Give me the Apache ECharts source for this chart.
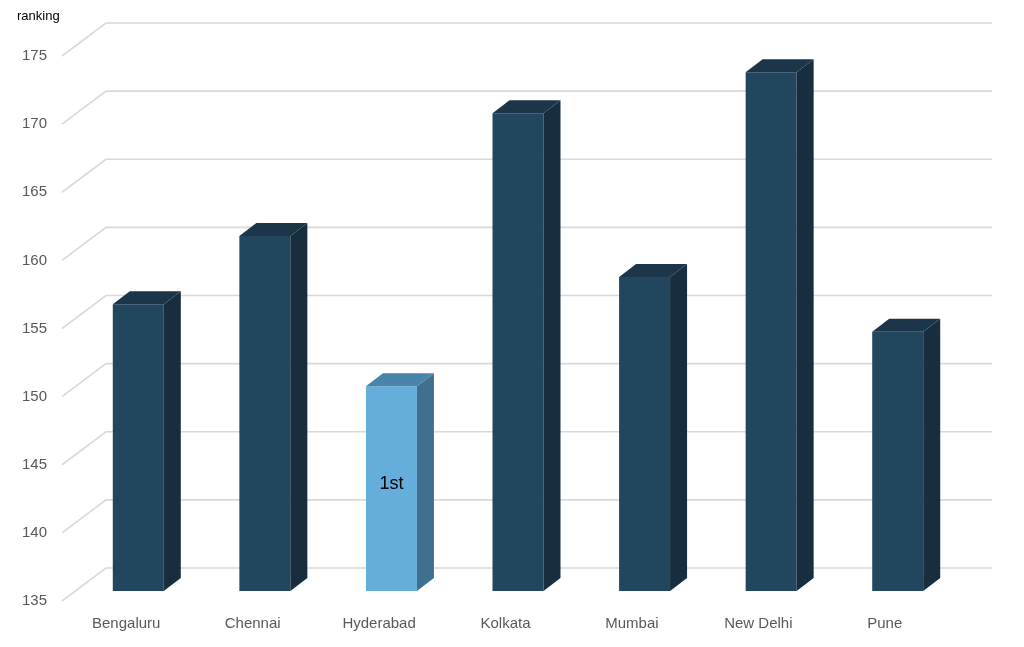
<!DOCTYPE html>
<html>
<head>
<meta charset="utf-8">
<script src="https://cdn.jsdelivr.net/npm/echarts@6/dist/echarts.min.js"></script>
<style>
  html, body { margin: 0; padding: 0; background: #fff; }
  #main { width: 1024px; height: 647px; }
</style>
</head>
<body>
<div id="main"></div>
<script>
var cities = ['Bengaluru', 'Chennai', 'Hyderabad', 'Kolkata', 'Mumbai', 'New Delhi', 'Pune'];
var rankings = [156, 161, 150, 170, 158, 173, 154];
var notes = ['', '', '1st', '', '', '', ''];
var yTicks = [135, 140, 145, 150, 155, 160, 165, 170, 175];
var highlightIdx = 2;

var FONT = '"Liberation Sans", Arial, sans-serif';
// perspective offsets (px)
var WALL_DX = 44, WALL_DY = 33;
var BAR_W = 51, DEPTH_X = 17, DEPTH_Y = 13;

var myChart = echarts.init(document.getElementById('main'));

var option = {
    animation: false,
    title: {
        text: 'ranking',
        left: 12, top: 5,
        textStyle: { fontFamily: FONT, fontSize: 13, fontWeight: 'normal', color: '#000' }
    },
    grid: [
        // back wall
        { left: 106, right: 32, top: 23, bottom: 79 },
        // bar plane
        { left: 75, right: 63, top: 45, bottom: 56 },
        // front (labels)
        { left: 63, right: 76, top: 56, bottom: 46 }
    ],
    xAxis: [
        { gridIndex: 0, type: 'value', min: 0, max: 1, show: false },
        { gridIndex: 1, type: 'category', data: cities, show: false },
        {
            gridIndex: 2, type: 'category', data: cities,
            axisLine: { show: false }, axisTick: { show: false },
            axisLabel: { margin: 15, color: '#595959', fontFamily: FONT, fontSize: 15 }
        }
    ],
    yAxis: [
        { gridIndex: 0, type: 'value', min: 135, max: 175, interval: 5, show: false },
        { gridIndex: 1, type: 'value', min: 135, max: 175, interval: 5, show: false },
        {
            gridIndex: 2, type: 'value', min: 135, max: 175, interval: 5,
            axisLine: { show: false }, axisTick: { show: false }, splitLine: { show: false },
            axisLabel: { margin: 16, color: '#595959', fontFamily: FONT, fontSize: 15 }
        }
    ],
    series: [
        {
            // wall gridlines incl. the diagonal on the side wall
            type: 'custom',
            xAxisIndex: 0, yAxisIndex: 0,
            silent: true, z: 1,
            data: yTicks.map(function (v) { return [0, v]; }),
            renderItem: function (params, api) {
                var p0 = api.coord([0, api.value(1)]);
                var p1 = api.coord([1, api.value(1)]);
                return {
                    type: 'polyline',
                    shape: { points: [[p0[0] - WALL_DX, p0[1] + WALL_DY], p0, p1] },
                    style: { stroke: '#d9d9d9', lineWidth: 1.6, fill: null }
                };
            }
        },
        {
            type: 'custom',
            xAxisIndex: 1, yAxisIndex: 1,
            z: 5,
            data: rankings.map(function (v, i) { return [i, v]; }),
            renderItem: function (params, api) {
                var i = api.value(0);
                var top = api.coord([i, api.value(1)]);
                var base = api.coord([i, 135]);
                var x0 = top[0] - BAR_W / 2, x1 = x0 + BAR_W;
                var yt = top[1], yb = base[1];
                var hl = i === highlightIdx;
                var cFront = hl ? '#65aedc' : '#23465f';
                var cSide = hl ? '#40708f' : '#182d3d';
                var cTop = hl ? '#4a84aa' : '#1d3549';
                var children = [
                    {
                        type: 'rect',
                        shape: { x: x0, y: yt, width: BAR_W, height: yb - yt },
                        style: { fill: cFront }
                    },
                    {
                        type: 'polygon',
                        shape: { points: [[x1, yt], [x1 + DEPTH_X, yt - DEPTH_Y], [x1 + DEPTH_X, yb - DEPTH_Y], [x1, yb]] },
                        style: { fill: cSide }
                    },
                    {
                        type: 'polygon',
                        shape: { points: [[x0, yt], [x0 + DEPTH_X, yt - DEPTH_Y], [x1 + DEPTH_X, yt - DEPTH_Y], [x1, yt]] },
                        style: { fill: cTop }
                    }
                ];
                if (notes[i]) {
                    children.push({
                        type: 'text',
                        style: {
                            text: notes[i], x: top[0], y: (yt + yb) / 2 - 5,
                            align: 'center', verticalAlign: 'middle',
                            fontFamily: FONT, fontSize: 18, fill: '#000'
                        }
                    });
                }
                return { type: 'group', children: children };
            }
        }
    ]
};
myChart.setOption(option);
</script>
</body>
</html>
